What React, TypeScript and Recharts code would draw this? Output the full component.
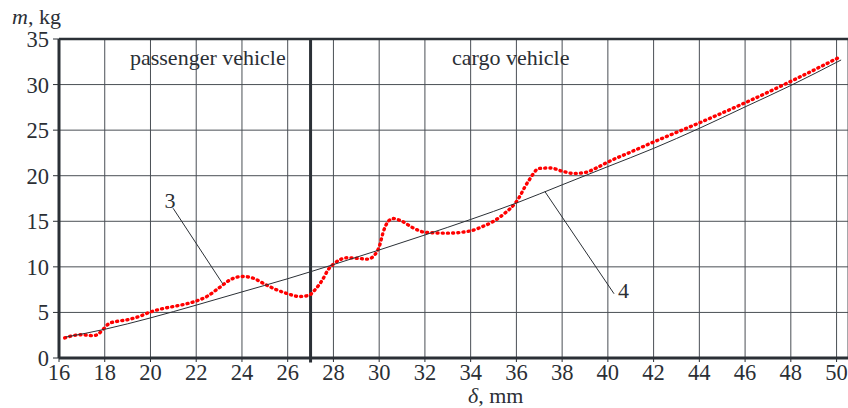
import React from "react";
import {
  LineChart,
  Line,
  XAxis,
  YAxis,
  CartesianGrid,
  ReferenceLine,
  ReferenceDot,
} from "recharts";

// Measured curve 3 (red dotted)
const measuredX = [
  16.25, 16.6, 17.0, 17.5, 17.75, 17.95, 18.2, 18.5, 19.0, 19.5, 20.0, 20.5, 21.0, 21.5, 22.0, 22.5,
  23.0, 23.5, 24.0, 24.5, 25.0, 25.5, 26.0, 26.5, 26.9, 27.2, 27.5, 27.8, 28.0, 28.3, 28.6, 29.0,
  29.5, 29.8, 30.0, 30.2, 30.4, 30.6, 31.0, 31.5, 32.0, 33.0, 34.0, 34.5, 35.0, 35.5, 36.0, 36.5,
  37.0, 37.5, 38.0, 38.5, 39.0, 39.5, 40.0, 41.0, 42.0, 44.0, 46.0, 48.0, 50.2,
];
const measuredM = [
  2.2, 2.45, 2.55, 2.45, 2.7, 3.2, 3.8, 4.0, 4.2, 4.55, 5.05, 5.4, 5.65, 5.9, 6.25, 6.8,
  7.7, 8.6, 8.95, 8.75, 8.1, 7.5, 7.05, 6.75, 6.85, 7.5, 8.5, 9.8, 10.3, 10.8, 11.0, 10.95,
  10.85, 11.3, 12.2, 14.0, 15.0, 15.3, 15.0, 14.25, 13.8, 13.7, 13.95, 14.4, 15.0, 15.9, 17.15, 19.3,
  20.8, 20.85, 20.5, 20.25, 20.35, 20.85, 21.5, 22.6, 23.7, 25.8, 28.0, 30.35, 33.1,
];

// Approximation curve 4 (thin black)
const approxX = [16.3, 18, 20, 22, 24, 26, 28, 30, 32, 34, 36, 38, 40, 42, 44, 46, 48, 50.2];
const approxM = [2.3, 3.15, 4.4, 5.8, 7.25, 8.7, 10.25, 11.85, 13.5, 15.2, 17.0, 19.0, 21.0, 23.0, 25.2, 27.55, 29.9, 32.7];

const xTicks = [16, 18, 20, 22, 24, 26, 28, 30, 32, 34, 36, 38, 40, 42, 44, 46, 48, 50];
const yTicks = [0, 5, 10, 15, 20, 25, 30, 35];

const zoneLabels = ["passenger vehicle", "cargo vehicle"];
const zoneLabelX = [22.51, 35.75];
const zoneLabelY = 33.03;
const zoneBoundary = 27;

const curveLabels = ["3", "4"];
const curveLabelX = [20.85, 40.68];
const curveLabelY = [17.32, 7.43];
const leaderFrom = [
  { x: 20.99, y: 16.43 },
  { x: 40.27, y: 7.05 },
];
const leaderTo = [
  { x: 23.16, y: 8.14 },
  { x: 37.25, y: 18.25 },
];

const measured = measuredX.map((x, i) => ({ x, m: measuredM[i] }));
const approx = approxX.map((x, i) => ({ x, m: approxM[i] }));

const FONT = "'Liberation Serif', 'Times New Roman', serif";
const TEXT = "#2b2f35";
const GRID = "#4a4f55";
const AXIS = "#2b3036";

const centerLabel = (value: string) => (props: any) => {
  const vb = props.viewBox || {};
  const cx = (vb.x ?? 0) + (vb.width ?? 0) / 2;
  const cy = (vb.y ?? 0) + (vb.height ?? 0) / 2;
  return (
    <text
      x={cx}
      y={cy}
      dy="0.355em"
      textAnchor="middle"
      fontSize={22}
      fontFamily={FONT}
      fill={TEXT}
    >
      {value}
    </text>
  );
};

const XTick = (props: any) => {
  const { x, y, payload } = props;
  return (
    <text x={x} y={y} dy="0.71em" textAnchor="middle" fontSize={22.5} fontFamily={FONT} fill={TEXT}>
      {payload.value}
    </text>
  );
};

const YTick = (props: any) => {
  const { x, y, payload } = props;
  return (
    <text x={x} y={y} dy="0.355em" textAnchor="end" fontSize={22.5} fontFamily={FONT} fill={TEXT}>
      {payload.value}
    </text>
  );
};

export default function App() {
  return (
    <div style={{ position: "absolute", left: 0, top: 0, width: 848, height: 408, background: "#fff" }}>
      <LineChart
        width={848}
        height={408}
        margin={{ top: 39, right: 0, bottom: 20, left: 0 }}
      >
        <CartesianGrid stroke={GRID} strokeWidth={1} />
        <XAxis
          type="number"
          dataKey="x"
          domain={[16, 50.5]}
          ticks={xTicks}
          height={30}
          allowDataOverflow
          axisLine={{ stroke: AXIS, strokeWidth: 3 }}
          tickLine={{ stroke: AXIS, strokeWidth: 1 }}
          tickSize={4}
          tickMargin={2}
          tick={<XTick />}
          interval={0}
          label={(p: any) => (
            <text x={468} y={403} fontSize={22} fontFamily={FONT} fill={TEXT}>
              <tspan fontStyle="italic">δ</tspan>, mm
            </text>
          )}
        />
        <YAxis
          type="number"
          domain={[0, 35]}
          ticks={yTicks}
          width={59}
          allowDataOverflow
          axisLine={{ stroke: AXIS, strokeWidth: 3 }}
          tickLine={{ stroke: AXIS, strokeWidth: 1 }}
          tickSize={6}
          tickMargin={4}
          tick={<YTick />}
          interval={0}
          label={(p: any) => (
            <text x={12} y={24} fontSize={22} fontFamily={FONT} fill={TEXT}>
              <tspan fontStyle="italic">m</tspan>, kg
            </text>
          )}
        />
        <ReferenceLine y={35} stroke={AXIS} strokeWidth={2.5} />
        <ReferenceLine
          segment={[
            { x: zoneBoundary, y: -0.5 },
            { x: zoneBoundary, y: 35 },
          ]}
          stroke={AXIS}
          strokeWidth={3}
          ifOverflow="visible"
        />
        {zoneLabels.map((t, i) => (
          <ReferenceDot
            key={t}
            x={zoneLabelX[i]}
            y={zoneLabelY}
            r={0}
            fill="none"
            stroke="none"
            label={centerLabel(t)}
          />
        ))}
        <Line
          data={measured}
          dataKey="m"
          type="monotone"
          stroke="#ff0000"
          strokeWidth={3.4}
          strokeDasharray="1 4.2"
          strokeLinecap="round"
          dot={false}
          activeDot={false}
          isAnimationActive={false}
        />
        <Line
          data={approx}
          dataKey="m"
          type="monotone"
          stroke="#2b3036"
          strokeWidth={1}
          dot={false}
          activeDot={false}
          isAnimationActive={false}
        />
        {curveLabels.map((t, i) => (
          <ReferenceLine
            key={"l" + t}
            segment={[leaderFrom[i], leaderTo[i]]}
            stroke="#2b3036"
            strokeWidth={1}
          />
        ))}
        {curveLabels.map((t, i) => (
          <ReferenceDot
            key={"d" + t}
            x={curveLabelX[i]}
            y={curveLabelY[i]}
            r={0}
            fill="none"
            stroke="none"
            label={centerLabel(t)}
          />
        ))}
      </LineChart>
    </div>
  );
}
